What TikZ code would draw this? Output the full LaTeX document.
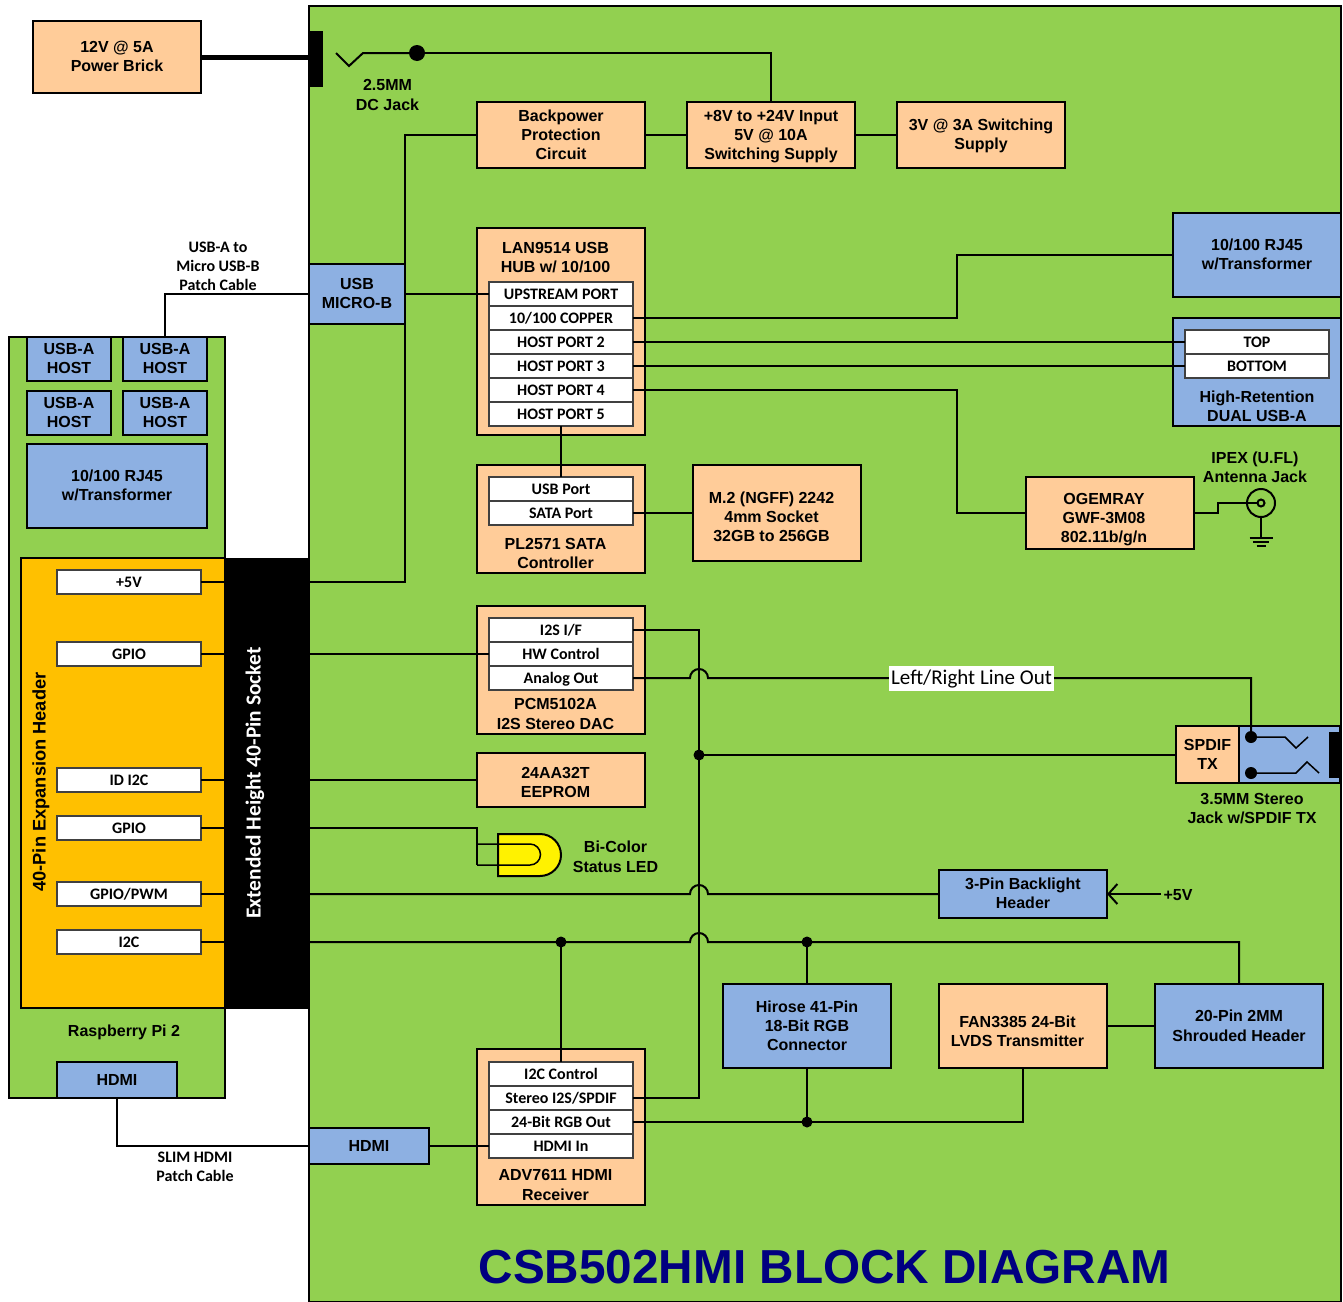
\documentclass[tikz,border=0pt]{standalone}
\usepackage{fontspec}
\setmainfont{Liberation Sans}
\newfontfamily\calfont{Carlito}
\usetikzlibrary{arrows.meta}
\definecolor{boardgreen}{HTML}{92D050}
\definecolor{partorange}{HTML}{FFCC99}
\definecolor{partblue}{HTML}{8DB0E2}
\definecolor{headeramber}{HTML}{FFC000}
\definecolor{titleblue}{HTML}{000080}
\definecolor{rowgray}{HTML}{404040}

\tikzset{
    every node/.style={inner sep=0pt, outer sep=0pt, align=center, text=black},
    boxtext/.style={font=\fontsize{16}{19}\selectfont\bfseries},
    widetext/.style={font=\fontsize{16}{20}\selectfont\bfseries},
    rowtext/.style={font=\calfont\fontsize{16}{19}\selectfont\bfseries},
    cabletext/.style={font=\calfont\fontsize{16}{19}\selectfont\bfseries},
    orangebox/.style={boxtext, draw=black, line width=2pt, fill=partorange},
    bluebox/.style={boxtext, draw=black, line width=2pt, fill=partblue},
    portrow/.style={rowtext, draw=rowgray, line width=1.2pt, fill=white, minimum width=144pt, minimum height=24pt, text height=10.5pt, text depth=0pt},
    wire/.style={draw=black, line width=2pt},
    thinwire/.style={draw=black, line width=1.5pt},
    dot/.style={circle, fill=black, minimum size=11pt},
}

\begin{document}
\begin{tikzpicture}[x=1pt, y=-1pt]
    \useasboundingbox (0,0) rectangle (1343,1301);

    % boards
    \node [draw=black, line width=2.5pt, fill=boardgreen, minimum width=1032pt, minimum height=1296pt] (board) at (825,654) {};
    \node [draw=black, line width=2.5pt, fill=boardgreen, minimum width=216pt, minimum height=761pt] (piboard) at (117,717.5) {};
    \node [draw=black, line width=2.5pt, fill=headeramber, minimum width=204pt, minimum height=450pt] (header) at (123,783) {};
    \node [fill=black, minimum width=84pt, minimum height=451pt] (socket) at (267,783) {};
    \node [rotate=90, font=\fontsize{18.25}{22}\selectfont\bfseries] (headerlabel) at (41,782) {40-Pin Expansion Header};
    \node [rotate=90, text=white, font=\calfont\fontsize{21.4}{24}\selectfont\bfseries] (socketlabel) at (255,783) {Extended Height 40-Pin Socket};
    \node [boxtext] (pilabel) at (124,1032) {Raspberry Pi 2};

    % power
    \node [orangebox, minimum width=168pt, minimum height=72pt] (brick) at (117,57) {};
    \node [boxtext] (bricklabel) at (117,56) {12V @ 5A\\Power Brick};
    \node [fill=black, minimum width=14pt, minimum height=56pt] (jackblock) at (316,59) {};
    \node [dot, minimum size=16pt] (jackdot) at (417,53) {};
    \node [widetext] (jacklabel) at (387.5,94.5) {2.5MM\\DC Jack};
    \node [orangebox, minimum width=168pt, minimum height=66pt] (backpower) at (561,135) {Backpower\\Protection\\Circuit};
    \node [orangebox, minimum width=168pt, minimum height=66pt] (mainsupply) at (771,135) {};
    \node [boxtext] (mainsupplylabel) at (771,137) {+8V to +24V Input\\5V @ 10A\\Switching Supply};
    \node [orangebox, minimum width=168pt, minimum height=66pt] (lowsupply) at (981,135) {};
    \node [boxtext] (lowsupplylabel) at (981,136) {3V @ 3A Switching\\Supply};

    % raspberry pi connectors
    \foreach \n/\x/\y in {1/69/359, 2/165/359, 3/69/413, 4/165/413} {
        \node [bluebox, minimum width=84pt, minimum height=44pt] (usbhost\n) at (\x,\y) {};
        \node [boxtext] (usblabel\n) at (\x,\y-1) {USB-A\\HOST};
    }
    \node [bluebox, minimum width=180pt, minimum height=84pt] (pirj) at (117,486) {};
    \node [boxtext] (pirjlabel) at (117,485) {10/100 RJ45\\w/Transformer};
    \node [bluebox, minimum width=120pt, minimum height=36pt] (pihdmi) at (117,1080) {HDMI};
    \node [portrow] (pinfive) at (129,582) {+5V};
    \node [portrow] (pingpioa) at (129,654) {GPIO};
    \node [portrow] (pinid) at (129,780) {ID I2C};
    \node [portrow] (pingpiob) at (129,828) {GPIO};
    \node [portrow] (pinpwm) at (129,894) {GPIO/PWM};
    \node [portrow] (pinitwoc) at (129,942) {I2C};

    % cables
    \node [bluebox, minimum width=96pt, minimum height=60pt] (usbmicro) at (357,294) {};
    \node [boxtext] (usbmicrolabel) at (357,293) {USB\\MICRO-B};
    \node [bluebox, minimum width=120pt, minimum height=36pt] (hdmiin) at (369,1146) {HDMI};
    \node [cabletext] (usbcable) at (218,266.5) {USB-A to\\Micro USB-B\\Patch Cable};
    \node [cabletext] (hdmicable) at (195,1167) {SLIM HDMI\\Patch Cable};

    % usb hub
    \node [orangebox, minimum width=168pt, minimum height=207pt] (hub) at (561,331.5) {};
    \node [boxtext] (hublabel) at (555.5,258) {LAN9514 USB\\HUB w/ 10/100};
    \node [portrow] (rowup) at (561,294) {UPSTREAM PORT};
    \node [portrow] (rowcopper) at (561,318) {10/100 COPPER};
    \node [portrow] (rowtwo) at (561,342) {HOST PORT 2};
    \node [portrow] (rowthree) at (561,366) {HOST PORT 3};
    \node [portrow] (rowfour) at (561,390) {HOST PORT 4};
    \node [portrow] (rowfive) at (561,414) {HOST PORT 5};

    % sata
    \node [orangebox, minimum width=168pt, minimum height=108pt] (sata) at (561,519) {};
    \node [boxtext] (satalabel) at (555.5,553) {PL2571 SATA\\Controller};
    \node [portrow] (rowusb) at (561,489) {USB Port};
    \node [portrow] (rowsata) at (561,513) {SATA Port};
    \node [orangebox, minimum width=168pt, minimum height=96pt] (socketmtwo) at (777,513) {};
    \node [boxtext] (socketmtwolabel) at (771.5,517) {M.2 (NGFF) 2242\\4mm Socket\\32GB to 256GB};

    % right side of the hub
    \node [bluebox, minimum width=168pt, minimum height=84pt] (rjright) at (1257,255) {};
    \node [boxtext] (rjrightlabel) at (1257,254) {10/100 RJ45\\w/Transformer};
    \node [bluebox, minimum width=168pt, minimum height=108pt] (dualusb) at (1257,372) {};
    \node [boxtext] (dualusblabel) at (1257,406) {High-Retention\\DUAL USB-A};
    \node [portrow] (rowtop) at (1257,342) {TOP};
    \node [portrow] (rowbottom) at (1257,366) {BOTTOM};
    \node [orangebox, minimum width=168pt, minimum height=72pt] (wifi) at (1110,513) {};
    \node [boxtext] (wifilabel) at (1104,520) {OGEMRAY\\GWF-3M08\\802.11b/g/n};
    \node [boxtext] (antlabel) at (1255,467) {IPEX (U.FL)\\Antenna Jack};
    \node [circle, draw=black, line width=2pt, minimum size=28pt] (antjack) at (1261,503) {};
    \node [circle, draw=black, line width=2pt, fill=boardgreen, minimum size=7pt] (antcore) at (1261,503) {};
    \coordinate (antgnd) at (1261,538);

    % audio
    \node [orangebox, minimum width=168pt, minimum height=128pt] (dac) at (561,670) {};
    \node [widetext] (daclabel) at (555.5,713.5) {PCM5102A\\I2S Stereo DAC};
    \node [portrow] (rowitwos) at (561,630) {I2S I/F};
    \node [portrow] (rowhw) at (561,654) {HW Control};
    \node [portrow] (rowanalog) at (561,678) {Analog Out};
    \node [orangebox, minimum width=168pt, minimum height=54pt] (eeprom) at (561,780) {};
    \node [boxtext] (eepromlabel) at (555.5,782) {24AA32T\\EEPROM};
    \node [orangebox, minimum width=63pt, minimum height=57pt] (spdif) at (1207.5,754.5) {};
    \node [boxtext] (spdiflabel) at (1207.5,754) {SPDIF\\TX};
    \node [draw=black, line width=2pt, fill=partblue, minimum width=101pt, minimum height=57pt] (stereojack) at (1289.5,754.5) {};
    \node [fill=black, minimum width=12pt, minimum height=46pt] (jackplug) at (1335,755) {};
    \node [dot, minimum size=12pt] (tipdot) at (1251,737) {};
    \node [dot, minimum size=12pt] (ringdot) at (1251,773) {};
    \node [boxtext] (stereolabel) at (1252,809) {3.5MM Stereo\\Jack w/SPDIF TX};
    \node [dot] (busdot) at (699,755) {};

    % led
    \coordinate (ledin) at (477,828);
    \draw [wire, fill=yellow] (498,834) -- (540,834) arc [start angle=90, end angle=-90, radius=21pt] -- (498,876) -- cycle;
    \draw [thinwire] (477,844) -- (530,844) arc [start angle=90, end angle=-90, radius=10.5pt] -- (477,865);
    \node [widetext] (ledlabel) at (615.5,856.5) {Bi-Color\\Status LED};

    % lower row
    \node [bluebox, minimum width=168pt, minimum height=48pt] (backlight) at (1023,894) {};
    \node [boxtext] (backlightlabel) at (1023,893) {3-Pin Backlight\\Header};
    \node [boxtext] (fivev) at (1178,895) {+5V};
    \node [bluebox, minimum width=168pt, minimum height=84pt] (hirose) at (807,1026) {Hirose 41-Pin\\18-Bit RGB\\Connector};
    \node [orangebox, minimum width=168pt, minimum height=84pt] (lvds) at (1023,1026) {};
    \node [boxtext] (lvdslabel) at (1017.5,1031) {FAN3385 24-Bit\\LVDS Transmitter};
    \node [bluebox, minimum width=168pt, minimum height=84pt] (shrouded) at (1239,1026) {};
    \node [widetext] (shroudedlabel) at (1239,1025.5) {20-Pin 2MM\\Shrouded Header};
    \node [dot] (itwocdota) at (561,942) {};
    \node [dot] (itwocdotb) at (807,942) {};
    \node [dot] (rgbdot) at (807,1122) {};

    % hdmi receiver
    \node [orangebox, minimum width=168pt, minimum height=156pt] (receiver) at (561,1127) {};
    \node [widetext] (receiverlabel) at (555.5,1184.5) {ADV7611 HDMI\\Receiver};
    \node [portrow] (rowctl) at (561,1074) {I2C Control};
    \node [portrow] (rowstereo) at (561,1098) {Stereo I2S/SPDIF};
    \node [portrow] (rowrgb) at (561,1122) {24-Bit RGB Out};
    \node [portrow] (rowhdmi) at (561,1146) {HDMI In};

    % power wires
    \draw [draw=black, line width=5pt] (brick.east) -- (brick.east -| jackblock.west);
    \draw [wire] (jackdot.center) -- (363,53) -- (349,66) -- (336,53);
    \draw [wire] (jackdot.center) -| (mainsupply.north);
    \draw [wire] (backpower.east) -- (mainsupply.west);
    \draw [wire] (mainsupply.east) -- (lowsupply.west);
    \draw [wire] (backpower.west) -| (usbmicro.east) |- (pinfive -| socket.east);

    % usb wires
    \draw [wire] (usbmicro.west) -| (usbhost2.north);
    \draw [wire] (usbmicro.east) -- (rowup.west);
    \draw [wire] (rowcopper.east) -- (957,318) |- (rjright.west);
    \draw [wire] (rowtwo.east) -- (rowtop.west);
    \draw [wire] (rowthree.east) -- (rowbottom.west);
    \draw [wire] (rowfour.east) -- (957,390) |- (wifi.west);
    \draw [wire] (rowfive.south) -- (rowusb.north);
    \draw [wire] (rowsata.east) -- (socketmtwo.west);

    % antenna
    \draw [wire] (wifi.east) -- ++(24,0) |- (antcore.west);
    \draw [wire] (antjack.south) -- (antgnd);
    \draw [wire] ([xshift=-11.5pt]antgnd) -- ([xshift=11.5pt]antgnd);
    \draw [wire] ([xshift=-8pt, yshift=-4pt]antgnd) -- ([xshift=8pt, yshift=-4pt]antgnd);
    \draw [wire] ([xshift=-4.5pt, yshift=-8pt]antgnd) -- ([xshift=4.5pt, yshift=-8pt]antgnd);

    % header pins
    \foreach \p in {pinfive,pingpioa,pinid,pingpiob,pinpwm,pinitwoc}
        \draw [wire] (\p.east) -- (\p -| socket.west);

    % audio wires
    \draw [wire] (pingpioa -| socket.east) -- (rowhw.west);
    \draw [wire] (pinid -| socket.east) -- (eeprom.west);
    \draw [wire] (rowitwos.east) -| (busdot.center) |- (rowstereo.east);
    \draw [wire] (busdot.center) -- (busdot -| spdif.west);
    \draw [wire] (rowanalog.east) -- ([xshift=-9pt]rowanalog -| busdot) arc [start angle=180, end angle=0, radius=9pt] -| (tipdot.center);
    \draw [thinwire] (tipdot.center) -- (1285,737) -- (1296,748) -- (1308,737);
    \draw [thinwire] (ringdot.center) -- (1296,773) -- (1307,762) -- (1319,773);
    \node [fill=white, minimum width=165pt, minimum height=25pt, text height=12pt, text depth=0pt, font=\calfont\fontsize{21}{24}\selectfont] (lineout) at (971.5,678.5) {Left/Right Line Out};

    % led wires
    \draw [wire] (pingpiob -| socket.east) -| (ledin) -- (477,865);

    % backlight and i2c
    \draw [wire] (pinpwm -| socket.east) -- ([xshift=-9pt]pinpwm -| busdot) arc [start angle=180, end angle=0, radius=9pt] -- (backlight.west);
    \draw [wire, -{Straight Barb[length=9pt, width=20pt]}] (fivev.west) ++(-3,-1) -- (backlight.east);
    \draw [wire] (pinitwoc -| socket.east) -- ([xshift=-9pt]pinitwoc -| busdot) arc [start angle=180, end angle=0, radius=9pt] -| (shrouded.north);
    \draw [wire] (itwocdota.center) -- (rowctl.north);
    \draw [wire] (itwocdotb.center) -- (hirose.north);
    \draw [wire] (lvds.east) -- (shrouded.west);
    \draw [wire] (rowrgb.east) -| (lvds.south);
    \draw [wire] (hirose.south) -- (rgbdot.center);

    % hdmi wires
    \draw [wire] (pihdmi.south) |- (hdmiin.west);
    \draw [wire] (hdmiin.east) -- (rowhdmi.west);

    \node [text=titleblue, font=\fontsize{47.7}{56}\selectfont\bfseries] (title) at (824.5,1267) {CSB502HMI BLOCK DIAGRAM};
\end{tikzpicture}
\end{document}
